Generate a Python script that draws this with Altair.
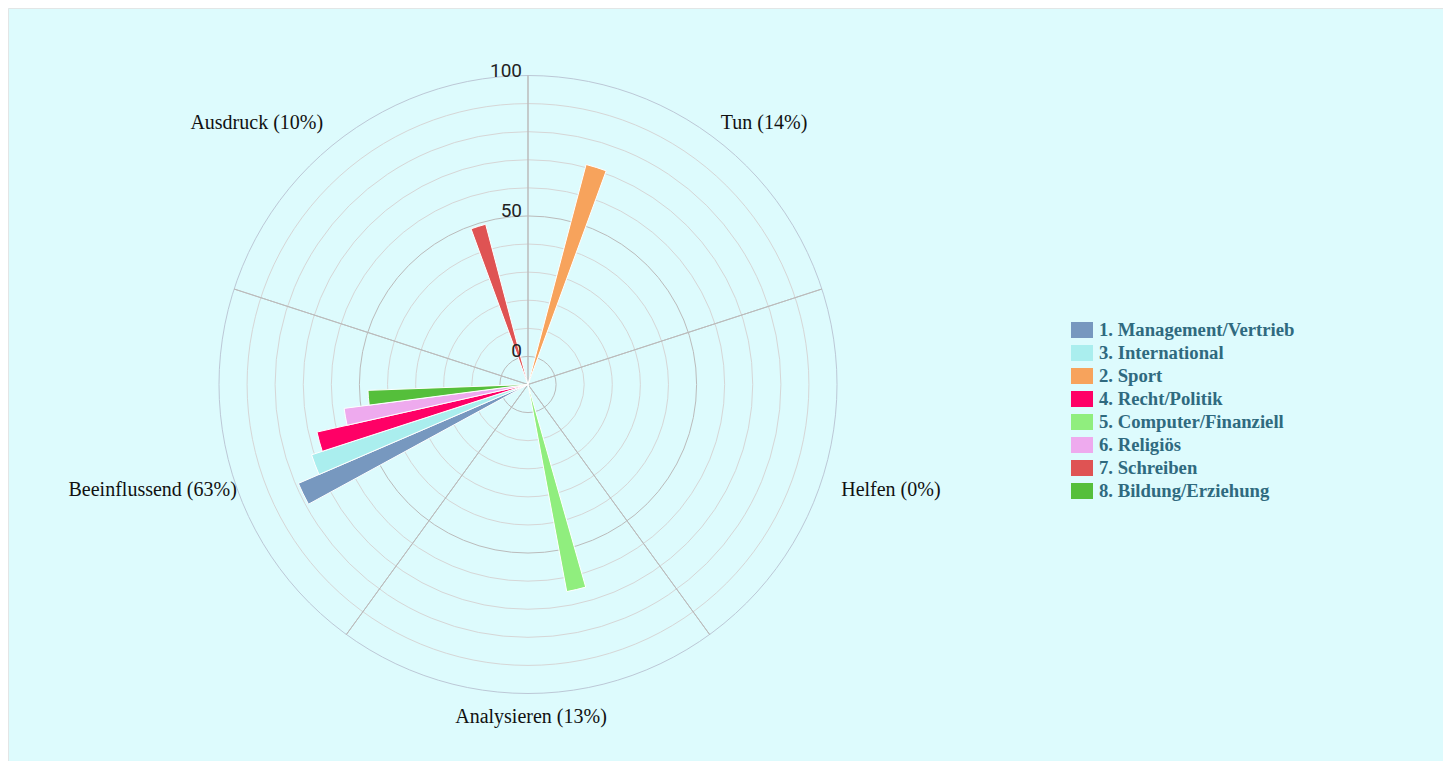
import math
import altair as alt
import pandas as pd

# ---------------- data ----------------
categories = ["Tun", "Helfen", "Analysieren", "Beeinflussend", "Ausdruck"]
category_labels = ["Tun (14%)", "Helfen (0%)", "Analysieren (13%)",
                   "Beeinflussend (63%)", "Ausdruck (10%)"]

series_names = ["1. Management/Vertrieb", "3. International", "2. Sport",
                "4. Recht/Politik", "5. Computer/Finanziell", "6. Religiös",
                "7. Schreiben", "8. Bildung/Erziehung"]
series_colors = ["#7798BF", "#aaeeee", "#f7a35c", "#ff0066", "#90ee7e",
                 "#eeaaee", "#DF5353", "#55BF3B"]
# clockwise slot of each series inside a category group
series_slot = [2, 3, 0, 4, 1, 5, 7, 6]

# values per series, one per category (Tun, Helfen, Analysieren, Beeinflussend, Ausdruck)
management = [0, 0, 0, 79, 0]
international = [0, 0, 0, 71, 0]
sport = [71, 0, 0, 0, 0]
recht = [0, 0, 0, 67, 0]
computer = [0, 0, 65, 0, 0]
religioes = [0, 0, 0, 56, 0]
schreiben = [0, 0, 0, 0, 49]
bildung = [0, 0, 0, 47, 0]
series_values = [management, international, sport, recht, computer,
                 religioes, schreiben, bildung]

grid_values = [0, 10, 20, 30, 40, 50, 60, 70, 80, 90, 100]
axis_tick_values = [0, 50, 100]

# ---------------- tables ----------------
rows = []
for s, name in enumerate(series_names):
    for c, cat in enumerate(categories):
        v = series_values[s][c]
        if v > 0:
            rows.append({"series": name, "category": cat, "ci": c,
                         "slot": series_slot[s], "value": v})
bars_df = pd.DataFrame(rows)
cat_df = pd.DataFrame({"category": categories, "label": category_labels,
                       "ci": list(range(len(categories)))})
grid_df = pd.DataFrame({"g": grid_values})
tick_df = pd.DataFrame({"g": axis_tick_values, "t": [str(v) for v in axis_tick_values]})

# ---------------- geometry / style ----------------
CX, CY = 520, 376.5
R = 309
SECTOR = 360 / len(categories)
SLOT_W = 5.3

tscale = alt.Scale(domain=[0, 360], range=[0, 2 * math.pi])
rscale = alt.Scale(type="linear", domain=[-10, 100], range=[0, R], zero=False, nice=False)
cx = alt.value(CX)
cy = alt.value(CY)

def circles(filter_expr, color):
    return alt.Chart(grid_df).transform_filter(filter_expr).mark_arc(
        fillOpacity=0, stroke=color, strokeWidth=1
    ).encode(
        x=cx, y=cy,
        theta=alt.value(0), theta2=alt.value(2 * math.pi + 0.001),
        radius=alt.Radius("g:Q", scale=rscale, stack=None),
        radius2=alt.value(0),
    )

minor = circles("datum.g != 0 && datum.g != 50 && datum.g != 100", "#d6d6d6")
major = circles("datum.g == 0 || datum.g == 50", "#bbbbbb")
outer = circles("datum.g == 100", "#bcc8d6")

spokes = alt.Chart(cat_df).transform_calculate(
    sa=f"datum.ci * {SECTOR}", rr="100"
).mark_arc(fillOpacity=0, stroke="#bbbbbb", strokeWidth=1).encode(
    x=cx, y=cy,
    theta=alt.Theta("sa:Q", scale=tscale, stack=None),
    theta2="sa:Q",
    radius=alt.Radius("rr:Q", scale=rscale, stack=None),
    radius2=alt.value(0),
)

bars = alt.Chart(bars_df).transform_calculate(
    t0=f"datum.ci * {SECTOR} + {SECTOR / 2} + (datum.slot - 4) * {SLOT_W}",
    t1=f"datum.ci * {SECTOR} + {SECTOR / 2} + (datum.slot - 3) * {SLOT_W}",
).mark_arc(stroke="white", strokeWidth=1).encode(
    x=cx, y=cy,
    theta=alt.Theta("t0:Q", scale=tscale, stack=None),
    theta2="t1:Q",
    radius=alt.Radius("value:Q", scale=rscale, stack=None),
    radius2=alt.value(0),
    color=alt.Color(
        "series:N",
        scale=alt.Scale(domain=series_names, range=series_colors),
        legend=alt.Legend(
            title=None, orient="none", legendX=1063, legendY=311,
            symbolType="M-1,-0.727L1,-0.727L1,0.727L-1,0.727Z",
            symbolSize=484, symbolStrokeWidth=0, symbolOpacity=1,
            labelFont="Liberation Serif", labelFontSize=18.7,
            labelFontWeight="bold", labelColor="#2f6a7f",
            labelOffset=6, rowPadding=2, padding=0, labelLimit=400,
        ),
    ),
    tooltip=["series:N", "category:N", "value:Q"],
)

tick_text = alt.Chart(tick_df).mark_text(
    align="right", baseline="alphabetic", dx=-6, dy=1,
    font="Liberation Sans Narrow, Roboto, sans-serif", fontSize=19, color="#222222"
).encode(
    x=cx, y=cy,
    theta=alt.value(0),
    radius=alt.Radius("g:Q", scale=rscale, stack=None),
    text="t:N",
)

# label placement: (category, align, dx, dy)
label_style = [
    ("Tun", "left", 3, 0),
    ("Helfen", "left", 6, 6),
    ("Analysieren", "center", 3, 9),
    ("Beeinflussend", "right", 16, 6),
    ("Ausdruck", "right", -15, 0),
]
label_layers = []
for cat, al, ddx, ddy in label_style:
    label_layers.append(
        alt.Chart(cat_df).transform_filter(alt.datum.category == cat).transform_calculate(
            ta=f"datum.ci * {SECTOR} + {SECTOR / 2}"
        ).mark_text(
            align=al, baseline="middle", dx=ddx, dy=ddy,
            font="Liberation Serif", fontSize=20, color="#111111"
        ).encode(
            x=cx, y=cy,
            theta=alt.Theta("ta:Q", scale=tscale, stack=None),
            radius=alt.value(323),
            text="label:N",
        )
    )

chart = alt.layer(minor, major, outer, spokes, bars, tick_text, *label_layers).properties(
    width=1435, height=753, background="#ddfbfd", padding=0, autosize="none"
).configure_view(stroke="#e2e6e6", strokeWidth=1)

chart.save("out.html", embed_options={"renderer": "svg", "actions": False})
